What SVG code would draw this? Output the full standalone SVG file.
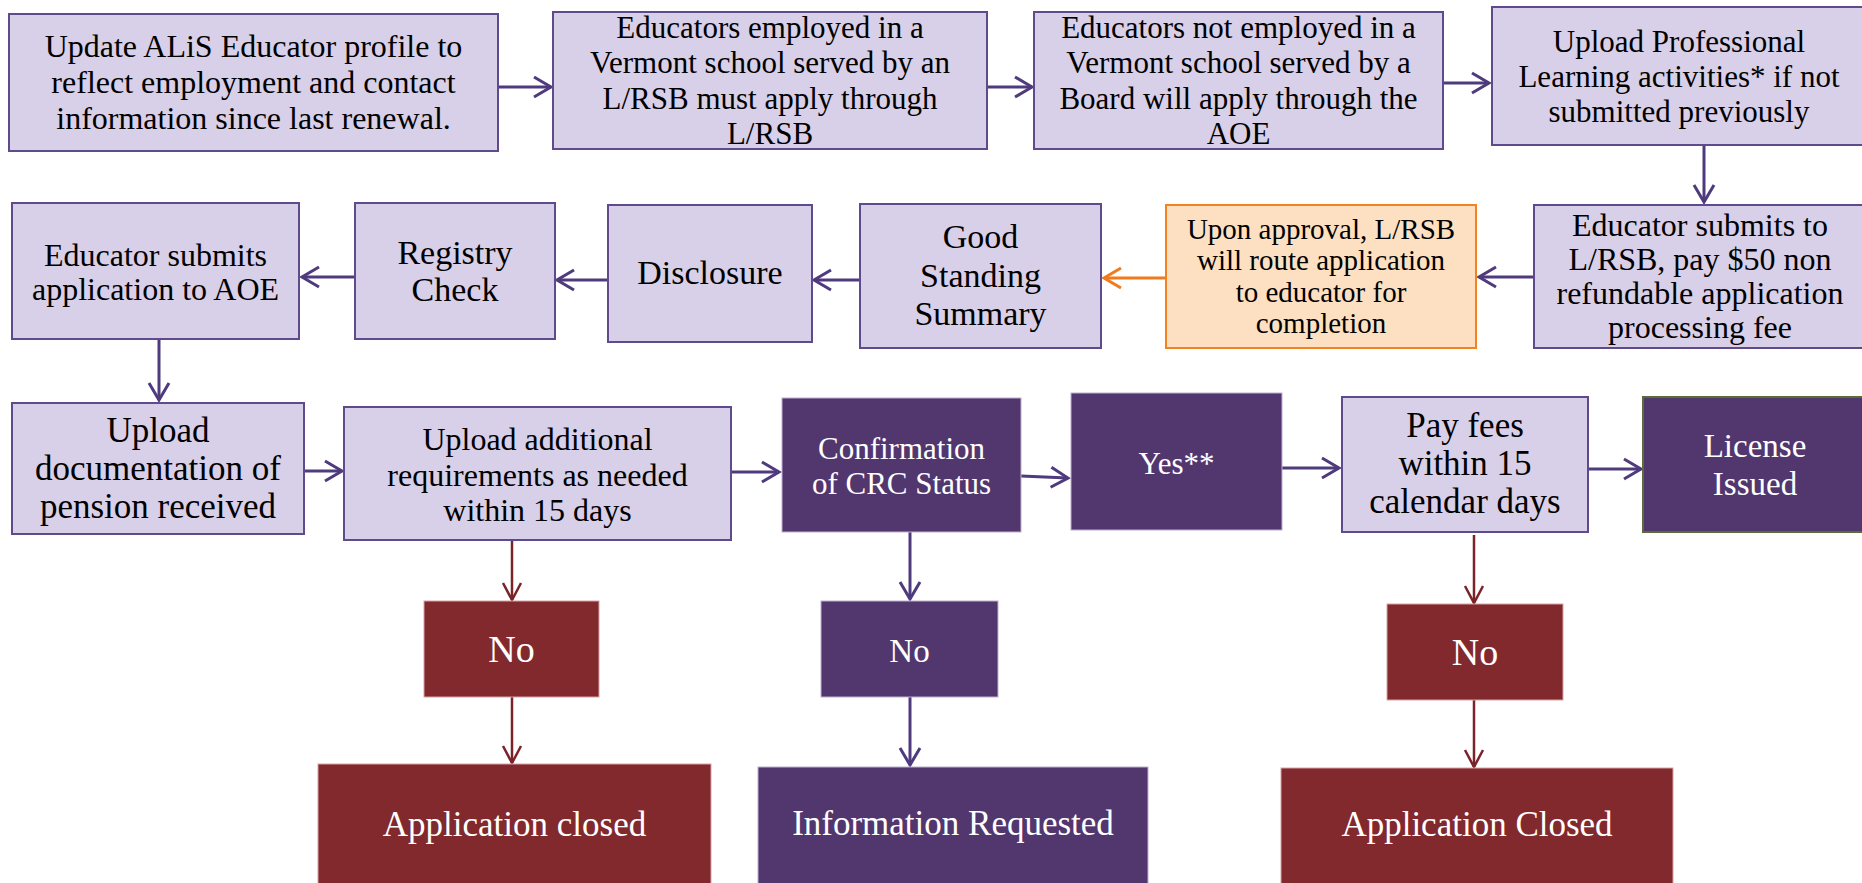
<svg xmlns="http://www.w3.org/2000/svg" width="1862" height="883" viewBox="0 0 1862 883">
<style>
.lp{fill:#d8cfe8;stroke:#5f4b8b;stroke-width:2}
.dp{fill:#52376f;stroke:#bfaed2;stroke-width:1}
.rd{fill:#82292d;stroke:#d6a4a6;stroke-width:1}
.or{fill:#fde0c2;stroke:#f58220;stroke-width:2}
.t{font-family:"Liberation Serif","Times New Roman",serif;text-anchor:middle;fill:#000}
.w{fill:#fff}
.cp{stroke:#4e3a7c;stroke-width:3;fill:none}
.cr{stroke:#7a2328;stroke-width:2.5;fill:none}
.co{stroke:#f07b1e;stroke-width:3;fill:none}
</style>
<defs>
<marker id="ap" markerUnits="userSpaceOnUse" markerWidth="26" markerHeight="26" viewBox="-22 -13 26 26" refX="0" refY="0" orient="auto"><path d="M-17,-10 L0,0 L-17,10" fill="none" stroke="#4e3a7c" stroke-width="3"/></marker>
<marker id="ar" markerUnits="userSpaceOnUse" markerWidth="26" markerHeight="26" viewBox="-22 -13 26 26" refX="0" refY="0" orient="auto"><path d="M-17,-9 L0,0 L-17,9" fill="none" stroke="#7a2328" stroke-width="2.5"/></marker>
<marker id="ao" markerUnits="userSpaceOnUse" markerWidth="26" markerHeight="26" viewBox="-22 -13 26 26" refX="0" refY="0" orient="auto"><path d="M-17,-10 L0,0 L-17,10" fill="none" stroke="#f07b1e" stroke-width="3"/></marker>
</defs>
<rect width="1862" height="883" fill="#fff"/>

<g id="connectors">
<line class="cp" x1="498" y1="87" x2="551" y2="87" marker-end="url(#ap)"/>
<line class="cp" x1="987" y1="87" x2="1032" y2="87" marker-end="url(#ap)"/>
<line class="cp" x1="1443" y1="83" x2="1489" y2="83" marker-end="url(#ap)"/>
<line class="cp" x1="1704" y1="145" x2="1704" y2="202" marker-end="url(#ap)"/>
<line class="cp" x1="1534" y1="277" x2="1479" y2="277" marker-end="url(#ap)"/>
<line class="co" x1="1166" y1="278" x2="1104" y2="278" marker-end="url(#ao)"/>
<line class="cp" x1="860" y1="280" x2="814" y2="280" marker-end="url(#ap)"/>
<line class="cp" x1="608" y1="280" x2="557" y2="280" marker-end="url(#ap)"/>
<line class="cp" x1="355" y1="277" x2="302" y2="277" marker-end="url(#ap)"/>
<line class="cp" x1="159" y1="339" x2="159" y2="400" marker-end="url(#ap)"/>
<line class="cp" x1="304" y1="471" x2="342" y2="471" marker-end="url(#ap)"/>
<line class="cp" x1="731" y1="472" x2="779" y2="472" marker-end="url(#ap)"/>
<line class="cp" x1="1021" y1="476" x2="1068" y2="478" marker-end="url(#ap)"/>
<line class="cp" x1="1282" y1="468" x2="1339" y2="468" marker-end="url(#ap)"/>
<line class="cp" x1="1588" y1="469" x2="1641" y2="469" marker-end="url(#ap)"/>
<line class="cr" x1="512" y1="541" x2="512" y2="600" marker-end="url(#ar)"/>
<line class="cr" x1="512" y1="697" x2="512" y2="763" marker-end="url(#ar)"/>
<line class="cp" x1="910" y1="532" x2="910" y2="599" marker-end="url(#ap)"/>
<line class="cp" x1="910" y1="697" x2="910" y2="765" marker-end="url(#ap)"/>
<line class="cr" x1="1474" y1="535" x2="1474" y2="603" marker-end="url(#ar)"/>
<line class="cr" x1="1474" y1="700" x2="1474" y2="767" marker-end="url(#ar)"/>
</g>

<g id="n1"><rect class="lp" x="9" y="14" width="489" height="137"/>
<text class="t" font-size="32"><tspan x="253.5" y="57">Update ALiS Educator profile to</tspan><tspan x="253.5" y="93">reflect employment and contact</tspan><tspan x="253.5" y="129">information since last renewal.</tspan></text></g>

<g id="n2"><rect class="lp" x="553" y="12" width="434" height="137"/>
<text class="t" font-size="31"><tspan x="770" y="37.5">Educators employed in a</tspan><tspan x="770" y="73">Vermont school served by an</tspan><tspan x="770" y="108.5">L/RSB must apply through</tspan><tspan x="770" y="144">L/RSB</tspan></text></g>

<g id="n3"><rect class="lp" x="1034" y="12" width="409" height="137"/>
<text class="t" font-size="31"><tspan x="1238.5" y="37.5">Educators not employed in a</tspan><tspan x="1238.5" y="73">Vermont school served by a</tspan><tspan x="1238.5" y="108.5">Board will apply through the</tspan><tspan x="1238.5" y="144">AOE</tspan></text></g>

<g id="n4"><rect class="lp" x="1492" y="7" width="374" height="138"/>
<text class="t" font-size="31"><tspan x="1679" y="52">Upload Professional</tspan><tspan x="1679" y="87">Learning activities* if not</tspan><tspan x="1679" y="122">submitted previously</tspan></text></g>

<g id="n5"><rect class="lp" x="1534" y="205" width="332" height="143"/>
<text class="t" font-size="32"><tspan x="1700" y="236">Educator submits to</tspan><tspan x="1700" y="270">L/RSB, pay $50 non</tspan><tspan x="1700" y="304">refundable application</tspan><tspan x="1700" y="338">processing fee</tspan></text></g>

<g id="n6"><rect class="or" x="1166" y="205" width="310" height="143"/>
<text class="t" font-size="29"><tspan x="1321" y="239">Upon approval, L/RSB</tspan><tspan x="1321" y="270">will route application</tspan><tspan x="1321" y="302">to educator for</tspan><tspan x="1321" y="333">completion</tspan></text></g>

<g id="n7"><rect class="lp" x="860" y="204" width="241" height="144"/>
<text class="t" font-size="34"><tspan x="980.5" y="248">Good</tspan><tspan x="980.5" y="287">Standing</tspan><tspan x="980.5" y="325">Summary</tspan></text></g>

<g id="n8"><rect class="lp" x="608" y="205" width="204" height="137"/>
<text class="t" font-size="34" x="710" y="284">Disclosure</text></g>

<g id="n9"><rect class="lp" x="355" y="203" width="200" height="136"/>
<text class="t" font-size="34"><tspan x="455" y="264">Registry</tspan><tspan x="455" y="301">Check</tspan></text></g>

<g id="n10"><rect class="lp" x="12" y="203" width="287" height="136"/>
<text class="t" font-size="32"><tspan x="155.5" y="266">Educator submits</tspan><tspan x="155.5" y="300">application to AOE</tspan></text></g>

<g id="n11"><rect class="lp" x="12" y="403" width="292" height="131"/>
<text class="t" font-size="35"><tspan x="158" y="442">Upload</tspan><tspan x="158" y="480">documentation of</tspan><tspan x="158" y="518">pension received</tspan></text></g>

<g id="n12"><rect class="lp" x="344" y="407" width="387" height="133"/>
<text class="t" font-size="32"><tspan x="537.5" y="450">Upload additional</tspan><tspan x="537.5" y="486">requirements as needed</tspan><tspan x="537.5" y="521">within 15 days</tspan></text></g>

<g id="n13"><rect class="dp" x="782" y="398" width="239" height="134"/>
<text class="t w" font-size="31"><tspan x="901.5" y="459">Confirmation</tspan><tspan x="901.5" y="494">of CRC Status</tspan></text></g>

<g id="n14"><rect class="dp" x="1071" y="393" width="211" height="137"/>
<text class="t w" font-size="31" x="1176.5" y="474">Yes**</text></g>

<g id="n15"><rect class="lp" x="1342" y="397" width="246" height="135"/>
<text class="t" font-size="35"><tspan x="1465" y="437">Pay fees</tspan><tspan x="1465" y="475">within 15</tspan><tspan x="1465" y="513">calendar days</tspan></text></g>

<g id="n16"><rect x="1643" y="397" width="224" height="135" fill="#52376f" stroke="#5b6b3a" stroke-width="2"/>
<text class="t w" font-size="33"><tspan x="1755" y="457">License</tspan><tspan x="1755" y="495">Issued</tspan></text></g>

<g id="n17"><rect class="rd" x="424" y="601" width="175" height="96"/>
<text class="t w" font-size="38" x="511.5" y="662">No</text></g>

<g id="n18"><rect class="rd" x="318" y="764" width="393" height="125"/>
<text class="t w" font-size="35" x="514.5" y="836">Application closed</text></g>

<g id="n19"><rect class="dp" x="821" y="601" width="177" height="96"/>
<text class="t w" font-size="33" x="909.5" y="662">No</text></g>

<g id="n20"><rect class="dp" x="758" y="767" width="390" height="122"/>
<text class="t w" font-size="35" x="953" y="835">Information Requested</text></g>

<g id="n21"><rect class="rd" x="1387" y="604" width="176" height="96"/>
<text class="t w" font-size="38" x="1475" y="665">No</text></g>

<g id="n22"><rect class="rd" x="1281" y="768" width="392" height="122"/>
<text class="t w" font-size="35" x="1477" y="836">Application Closed</text></g>
</svg>
